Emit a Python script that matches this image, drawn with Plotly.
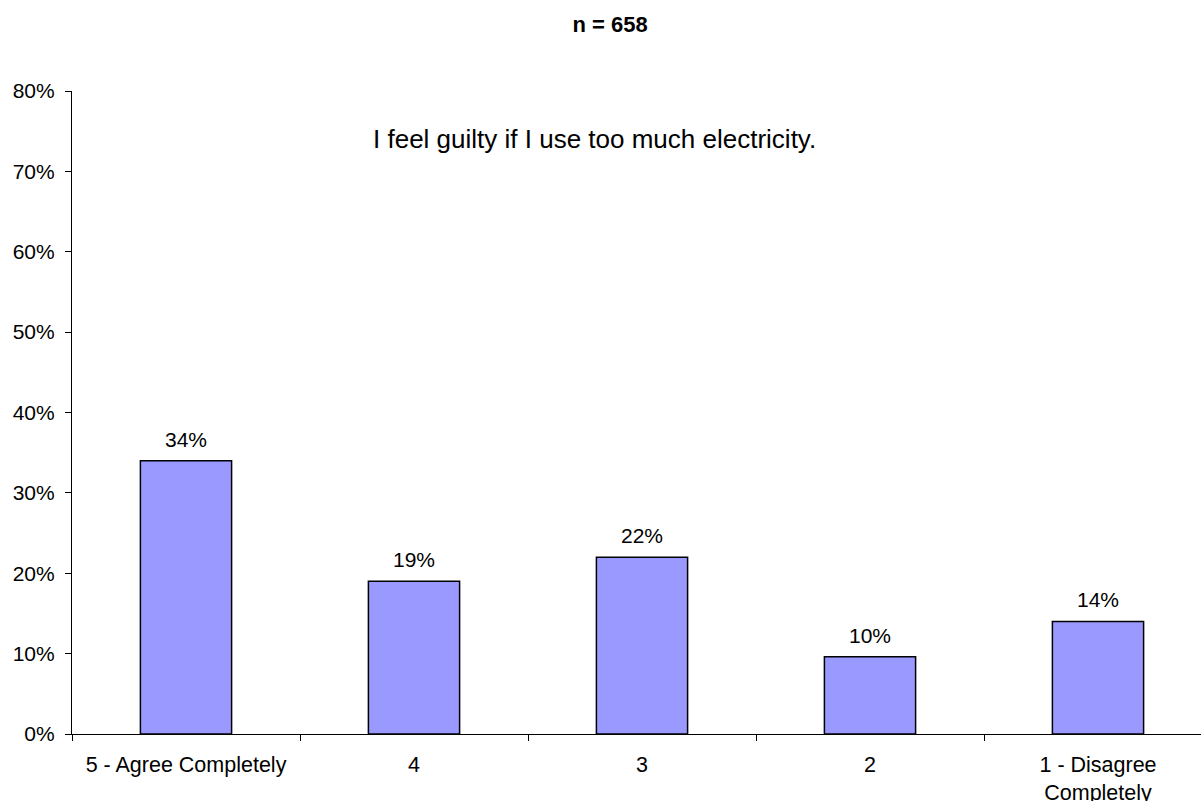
import plotly.graph_objects as go

# Survey responses: "I feel guilty if I use too much electricity."
categories = ["5 - Agree Completely", "4", "3", "2", "1 - Disagree<br>Completely"]
shares = [34, 19, 22, 9.6, 14]          # percent of respondents
y_ticks = [0, 10, 20, 30, 40, 50, 60, 70, 80]
y_tick_labels = [f"{v}%" for v in y_ticks]
sample_size = 658
statement = "I feel guilty if I use too much electricity."

FONT = "Liberation Sans, Arial, sans-serif"

fig = go.Figure()
fig.add_trace(go.Bar(
    x=categories,
    y=shares,
    width=0.4,
    marker=dict(color="#9999FF", line=dict(color="black", width=1.5)),
    hoverinfo="skip",
))

# value labels above each bar (x given as category index)
for i, v in enumerate(shares):
    fig.add_annotation(
        x=i, y=v, xref="x", yref="y",
        text=f"{v:.0f}%", showarrow=False,
        yanchor="bottom", yshift=8,
        font=dict(family=FONT, size=21, color="black"),
    )

# statement inside the plot area
fig.add_annotation(
    x=0.463, y=0.926, xref="paper", yref="paper",
    text=statement, showarrow=False,
    xanchor="center", yanchor="middle",
    font=dict(family=FONT, size=26, color="black"),
)

fig.update_layout(
    width=1201, height=801,
    margin=dict(l=72, r=0, t=91, b=67, autoexpand=False),
    paper_bgcolor="white", plot_bgcolor="white",
    showlegend=False,
    title=dict(
        text=f"<b>n = {sample_size}</b>",
        x=0.508, xanchor="center", y=0.97, yanchor="middle",
        font=dict(family=FONT, size=22, color="black"),
    ),
    font=dict(family=FONT, color="black"),
)

fig.update_xaxes(
    type="category",
    categoryorder="array", categoryarray=categories,
    range=[-0.5, -0.5 + 1129 / 228],
    tickson="boundaries",
    ticks="outside", ticklen=6, tickcolor="black", tickwidth=1,
    showline=True, linecolor="black", linewidth=1.2,
    showgrid=False, zeroline=False,
    tickfont=dict(family=FONT, size=21.5, color="black"),
    ticklabelstandoff=11,
    automargin=False,
    fixedrange=True,
)

fig.update_yaxes(
    range=[0, 80],
    tickmode="array", tickvals=y_ticks, ticktext=y_tick_labels,
    ticks="outside", ticklen=6, tickcolor="black", tickwidth=1,
    showline=True, linecolor="black", linewidth=1.2,
    showgrid=False, zeroline=False,
    tickfont=dict(family=FONT, size=21, color="black"),
    ticklabelstandoff=6,
    automargin=False,
    fixedrange=True,
)

fig.write_html("out.html")
